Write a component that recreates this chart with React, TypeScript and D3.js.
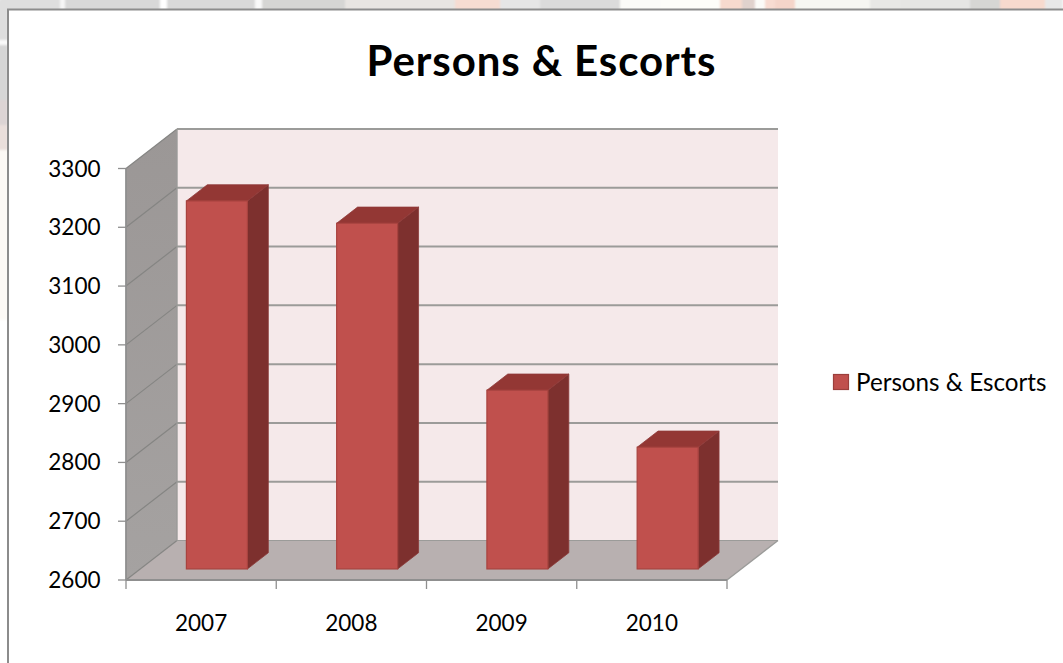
import React from "react";
import * as d3 from "d3";

// Annual totals of persons and escorts
const years = ["2007", "2008", "2009", "2010"];
const totals = [3226, 3188, 2904, 2807];
const yTicks = [2600, 2700, 2800, 2900, 3000, 3100, 3200, 3300];
const seriesName = "Persons & Escorts";

// Backdrop photo showing around the card: [start, end, colour]
const topBand: [number, number, string][] = [
  [0, 60, "#dedede"], [60, 65, "#f6f6f6"], [65, 160, "#d8d8d8"], [160, 167, "#ffffff"],
  [167, 255, "#d9d9d9"], [255, 262, "#fafafa"], [262, 345, "#d6d6d4"], [345, 455, "#e8e5e2"],
  [455, 500, "#f6dcd2"], [500, 540, "#e6e6e6"], [540, 620, "#dbdbdb"], [620, 660, "#fbfbf8"],
  [660, 720, "#fdfdf9"], [720, 742, "#f7dace"], [742, 755, "#e0d2cd"],
  [755, 765, "#fbfbf8"], [765, 775, "#f8dcd2"], [775, 795, "#f5d5ca"], [795, 870, "#f6f6f2"],
  [870, 900, "#e8e8e6"], [900, 970, "#e6e6e4"], [970, 1000, "#d6d6d4"], [1000, 1045, "#f7dace"],
  [1045, 1063, "#e8e8e8"],
];
const leftBand: [number, number, string][] = [
  [0, 40, "#dedede"], [40, 45, "#fafafa"], [45, 100, "#d6d6d6"], [100, 125, "#dcd4d4"],
  [125, 150, "#eadfdb"], [150, 320, "#fcf9f5"], [320, 663, "#ffffff"],
];

const WIDTH = 1063;
const HEIGHT = 663;
const FONT = "Lato, 'Open Sans', sans-serif";

// Oblique projection of the 3-D box: depth 0 is the front plane, 1 the back wall
const DEPTH_X = 51;
const DEPTH_Y = 39.5;
const BAR_NEAR = 0.28;
const BAR_FAR = 0.69;

const x = d3.scaleBand<string>().domain(years).range([126, 727]);
const y = d3.scaleLinear().domain([2600, 3300]).range([580, 168.5]);

const px = (sx: number, depth: number) => sx + depth * DEPTH_X;
const py = (v: number, depth: number) => y(v) - depth * DEPTH_Y;

const poly = (pts: [number, number][]) => (d3.line()(pts) ?? "") + "Z";

const [yMin, yMax] = y.domain();
const xLeft = x.range()[0];
const xRight = x.range()[1];
const GRID = "#9b9b99";
const AXIS = "#8f8f8f";

function Bar({ year, value }: { year: string; value: number }) {
  const band = x(year) as number;
  const barW = x.bandwidth() * 0.406;
  const left = band + (x.bandwidth() - barW) / 2 + 1.5;
  const x0 = px(left, BAR_NEAR);
  const x1 = x0 + barW;
  const dx = (BAR_FAR - BAR_NEAR) * DEPTH_X;
  const dy = (BAR_FAR - BAR_NEAR) * DEPTH_Y;
  const top = py(value, BAR_NEAR);
  const base = py(yMin, BAR_NEAR);
  return (
    <g>
      <path d={poly([[x1, top], [x1 + dx, top - dy], [x1 + dx, base - dy], [x1, base]])} fill="#7d302e" stroke="#8a3a38" strokeWidth={0.8} />
      <path d={poly([[x0, top], [x0 + dx, top - dy], [x1 + dx, top - dy], [x1, top]])} fill="#933734" stroke="#8f3a38" strokeWidth={0.8} />
      <rect x={x0} y={top} width={barW} height={base - top} fill="#c0504d" stroke="#a8433f" strokeWidth={1.2} />
    </g>
  );
}

export default function App() {
  return (
    <svg
      width={WIDTH}
      height={HEIGHT}
      viewBox={`0 0 ${WIDTH} ${HEIGHT}`}
      style={{ position: "absolute", left: 0, top: 0, display: "block" }}
    >
      <defs>
        <linearGradient id="sideWall" x1="0" y1="0" x2="0" y2="1">
          <stop offset="0" stopColor="#9b9796" />
          <stop offset="1" stopColor="#a5a2a1" />
        </linearGradient>
        <filter id="soft" x="-2%" y="-2%" width="104%" height="104%">
          <feGaussianBlur stdDeviation="1" />
        </filter>
      </defs>

      {/* Backdrop around the card */}
      <rect width={WIDTH} height={HEIGHT} fill="#ffffff" />
      <g filter="url(#soft)">
        {topBand.map(([a, b, c], i) => (
          <rect key={`t${i}`} x={a} y={-3} width={b - a} height={14} fill={c} />
        ))}
        {leftBand.map(([a, b, c], i) => (
          <rect key={`l${i}`} x={-3} y={a} width={11} height={b - a} fill={c} />
        ))}
      </g>

      {/* Card */}
      <rect x={8} y={10} width={WIDTH} height={HEIGHT} fill="#ffffff" />
      <path d={`M8 ${HEIGHT}V9.5H${WIDTH}`} fill="none" stroke="#8c8c8c" strokeWidth={2} />

      <text x={541.5} y={75.5} textAnchor="middle" fontFamily={FONT} fontWeight={700} fontSize={42} letterSpacing={0.9} fill="#000">
        {seriesName}
      </text>

      {/* Back wall, side wall and floor */}
      <path
        d={poly([[px(xLeft, 1), py(yMax, 1)], [px(xRight, 1), py(yMax, 1)], [px(xRight, 1), py(yMin, 1)], [px(xLeft, 1), py(yMin, 1)]])}
        fill="#f5e9ea"
      />
      <path
        d={poly([[xLeft, y(yMax)], [px(xLeft, 1), py(yMax, 1)], [px(xLeft, 1), py(yMin, 1)], [xLeft, y(yMin)]])}
        fill="url(#sideWall)"
      />
      <path
        d={poly([[xLeft, y(yMin)], [px(xLeft, 1), py(yMin, 1)], [px(xRight, 1), py(yMin, 1)], [xRight, y(yMin)]])}
        fill="#b8b0b0"
      />

      {/* Gridlines wrapping from the side wall onto the back wall */}
      {yTicks.map((t) => (
        <g key={t} fill="none">
          <path d={`M${xLeft} ${y(t)}L${px(xLeft, 1)} ${py(t, 1)}`} stroke="#858583" strokeWidth={1.2} />
          <path d={`M${px(xLeft, 1)} ${py(t, 1)}H${px(xRight, 1)}`} stroke={GRID} strokeWidth={t === yMin ? 1.2 : 2} />
        </g>
      ))}
      <line x1={px(xLeft, 1)} x2={px(xLeft, 1)} y1={py(yMax, 1)} y2={py(yMin, 1)} stroke={GRID} strokeWidth={1.4} />
      <line x1={xRight} x2={px(xRight, 1)} y1={y(yMin)} y2={py(yMin, 1)} stroke={GRID} strokeWidth={1.4} />

      {years.map((yr, i) => (
        <Bar key={yr} year={yr} value={totals[i]} />
      ))}

      {/* Axes */}
      <line x1={xLeft} x2={xLeft} y1={y(yMax)} y2={y(yMin)} stroke={AXIS} strokeWidth={1.8} />
      <line x1={xLeft} x2={xRight} y1={y(yMin)} y2={y(yMin)} stroke={AXIS} strokeWidth={1.8} />
      {yTicks.map((t) => (
        <g key={t}>
          <line x1={xLeft - 8} x2={xLeft} y1={y(t)} y2={y(t)} stroke={AXIS} strokeWidth={1.3} />
          <text x={100.5} y={y(t) + 8} textAnchor="end" fontFamily={FONT} fontSize={22.5} fill="#000">
            {t}
          </text>
        </g>
      ))}
      {[...years.map((yr) => x(yr) as number), xRight].map((tx) => (
        <line key={tx} x1={tx} x2={tx} y1={y(yMin)} y2={y(yMin) + 9} stroke={AXIS} strokeWidth={1.3} />
      ))}
      {years.map((yr) => (
        <text
          key={yr}
          x={(x(yr) as number) + x.bandwidth() / 2}
          y={631}
          textAnchor="middle"
          fontFamily={FONT}
          fontSize={22.5}
          fill="#000"
        >
          {yr}
        </text>
      ))}

      {/* Legend */}
      <rect x={833.5} y={374.5} width={15} height={15} fill="#c0504d" stroke="#9c3f3c" strokeWidth={1.2} />
      <text x={856} y={390.5} fontFamily={FONT} fontSize={24.2} fill="#000">
        {seriesName}
      </text>
    </svg>
  );
}
